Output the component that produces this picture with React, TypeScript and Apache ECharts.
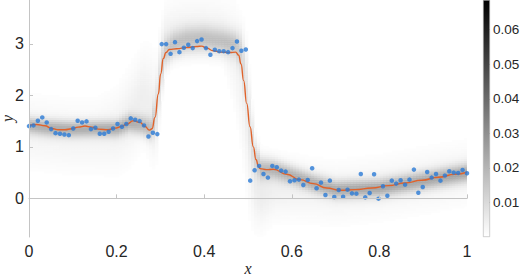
import React, { useEffect, useRef } from "react";
import * as echarts from "echarts";

// ---- observed data points (x evenly spaced on [0,1], 100 points) ----
const pointY = [
  1.403, 1.416, 1.506, 1.571, 1.474, 1.344, 1.266, 1.253, 1.24, 1.227,
  1.357, 1.506, 1.474, 1.494, 1.344, 1.37, 1.253, 1.253, 1.292, 1.357,
  1.442, 1.39, 1.442, 1.552, 1.526, 1.5, 1.416, 1.201, 1.273, 1.247,
  2.994, 2.994, 2.805, 3.032, 2.838, 2.922, 2.981, 2.916, 3.052, 3.084,
  2.916, 2.786, 2.883, 2.857, 2.857, 2.838, 2.916, 3.045, 2.864, 2.89,
  0.344, 0.545, 0.63, 0.474, 0.403, 0.63, 0.604, 0.539, 0.519, 0.331,
  0.351, 0.364, 0.26, 0.357, 0.584, 0.195, 0.305, 0.065, 0.344, 0.026,
  0.162, 0.032, 0.169, 0.097, 0.091, 0.474, 0.019, 0.104, 0.468, -0.006,
  0.234, 0.052, 0.344, 0.286, 0.351, 0.266, 0.364, 0.558, 0.11, 0.221,
  0.513, 0.403, 0.474, 0.344, 0.442, 0.526, 0.5, 0.494, 0.552, 0.487,
];

// ---- mean curve (orange) ----
const curveX = [
  0.0, 0.0175, 0.0365, 0.0518, 0.067, 0.0822, 0.0974, 0.1126, 0.1279, 0.1431,
  0.1583, 0.1811, 0.1963, 0.2116, 0.223, 0.2382, 0.2534, 0.2648, 0.2747, 0.2808,
  0.2877, 0.2953, 0.3006, 0.3067, 0.3128, 0.3204, 0.3371, 0.36, 0.3828, 0.3942,
  0.4056, 0.4209, 0.4361, 0.4589, 0.4718, 0.4787, 0.484, 0.4901, 0.497, 0.5046,
  0.5122, 0.5183, 0.5236, 0.5274, 0.5426, 0.5578, 0.5883, 0.6187, 0.6492, 0.6796,
  0.71, 0.7443, 0.7823, 0.8204, 0.8584, 0.8965, 0.9346, 0.9726, 1.0,
];
const curveY = [
  1.416, 1.435, 1.409, 1.357, 1.331, 1.331, 1.351, 1.383, 1.403, 1.383,
  1.344, 1.331, 1.364, 1.396, 1.442, 1.506, 1.474, 1.396, 1.325, 1.351,
  1.571, 2.026, 2.416, 2.714, 2.831, 2.89, 2.903, 2.929, 2.948, 2.955,
  2.916, 2.864, 2.838, 2.831, 2.838, 2.779, 2.61, 2.286, 1.844, 1.39,
  1.0, 0.753, 0.63, 0.578, 0.558, 0.565, 0.468, 0.364, 0.286, 0.201,
  0.156, 0.169, 0.201, 0.247, 0.299, 0.351, 0.409, 0.468, 0.506,
];

// ---- predictive density, read at knots: main band + faint halo ----
const densX =      [0.0, 0.05, 0.1, 0.15, 0.2, 0.23, 0.26, 0.28, 0.29, 0.3, 0.31, 0.33, 0.36, 0.4, 0.44, 0.47, 0.485, 0.495, 0.505, 0.515, 0.53, 0.56, 0.6, 0.65, 0.7, 0.8, 0.9, 1.0];
const bandCenter = [1.42, 1.37, 1.35, 1.36, 1.36, 1.47, 1.42, 1.35, 1.7, 2.4, 2.85, 3.0, 3.08, 3.1, 3.05, 3.0, 2.85, 2.3, 1.4, 0.8, 0.58, 0.56, 0.45, 0.3, 0.18, 0.21, 0.35, 0.5];
const bandSigma =  [0.11, 0.11, 0.11, 0.11, 0.11, 0.12, 0.13, 0.15, 0.35, 0.35, 0.2, 0.17, 0.17, 0.17, 0.17, 0.17, 0.25, 0.45, 0.45, 0.25, 0.15, 0.13, 0.12, 0.12, 0.12, 0.12, 0.12, 0.12];
const bandPeak =   [0.018, 0.019, 0.019, 0.019, 0.019, 0.018, 0.017, 0.014, 0.006, 0.006, 0.012, 0.015, 0.015, 0.015, 0.015, 0.014, 0.01, 0.005, 0.005, 0.009, 0.016, 0.018, 0.019, 0.02, 0.02, 0.021, 0.021, 0.022];
const haloCenter = [1.3, 1.25, 1.2, 1.2, 1.3, 1.6, 2.0, 1.8, 1.7, 2.5, 3.2, 3.3, 3.35, 3.35, 3.3, 2.8, 2.2, 1.6, 0.8, 0.2, 0.1, 0.2, 0.2, 0.15, 0.1, 0.2, 0.35, 0.5];
const haloSigma =  [0.4, 0.4, 0.4, 0.4, 0.45, 0.5, 0.5, 0.6, 0.6, 0.5, 0.35, 0.35, 0.35, 0.35, 0.35, 0.6, 0.7, 0.8, 0.7, 0.45, 0.4, 0.35, 0.35, 0.35, 0.35, 0.35, 0.35, 0.35];
const haloPeak =   [0.003, 0.003, 0.003, 0.003, 0.0035, 0.004, 0.0045, 0.004, 0.003, 0.003, 0.003, 0.003, 0.003, 0.003, 0.003, 0.003, 0.003, 0.003, 0.003, 0.004, 0.005, 0.004, 0.0035, 0.003, 0.003, 0.003, 0.003, 0.003];

const xTicks = [0, 0.2, 0.4, 0.6, 0.8, 1];
const yTicks = [0, 1, 2, 3];
const cbTicks = [0.01, 0.02, 0.03, 0.04, 0.05, 0.06];

const X_MIN = 0, X_MAX = 1, Y_MIN = -0.75, Y_MAX = 3.85, CB_MAX = 0.0686;
const NX = 146, NY = 115;

function interp(xs: number[], ys: number[], x: number) {
  if (x <= xs[0]) return ys[0];
  for (let i = 1; i < xs.length; i++) {
    if (x <= xs[i]) {
      const t = (x - xs[i - 1]) / (xs[i] - xs[i - 1]);
      return ys[i - 1] + t * (ys[i] - ys[i - 1]);
    }
  }
  return ys[ys.length - 1];
}

function gauss(y: number, c: number, s: number) {
  const z = (y - c) / s;
  return Math.exp(-0.5 * z * z);
}

// cells: [x0, x1, y0, y1, density]
function buildHeat() {
  const out: number[][] = [];
  const dx = (X_MAX - X_MIN) / NX, dy = (Y_MAX - Y_MIN) / NY;
  for (let i = 0; i < NX; i++) {
    const x0 = X_MIN + i * dx;
    const xc = x0 + dx / 2;
    const c1 = interp(densX, bandCenter, xc), s1 = interp(densX, bandSigma, xc), a1 = interp(densX, bandPeak, xc);
    const c2 = interp(densX, haloCenter, xc), s2 = interp(densX, haloSigma, xc), a2 = interp(densX, haloPeak, xc);
    for (let j = 0; j < NY; j++) {
      const y0 = Y_MIN + j * dy;
      const yc = y0 + dy / 2;
      const v = a1 * gauss(yc, c1, s1) + a2 * gauss(yc, c2, s2);
      if (v > 0.0005) out.push([x0, x0 + dx, y0, y0 + dy, v]);
    }
  }
  return out;
}

function grayOf(v: number) {
  const t = Math.max(0, Math.min(1, v / CB_MAX));
  const g = Math.round(255 * (1 - t));
  return `rgb(${g},${g},${g})`;
}

const FONT = "'Liberation Sans', Arial, sans-serif";
const TXT = "#262626";
const AX = "#c4c4c4";
const NAME_STYLE = { fontFamily: "'Liberation Serif', serif", fontStyle: "italic", fontSize: 16, color: TXT };

export default function App() {
  const ref = useRef<HTMLDivElement>(null);
  useEffect(() => {
    if (!ref.current) return;
    const chart = echarts.init(ref.current, undefined, { renderer: "svg" });
    const option: any = {
      animation: false,
      backgroundColor: "#ffffff",
      grid: [
        { left: 29, right: 55, top: 0, bottom: 42, outerBoundsMode: "none", containLabel: false },
        { left: 483, width: 7, top: 0, bottom: 42, outerBoundsMode: "none", containLabel: false },
      ],
      xAxis: [
        {
          gridIndex: 0, type: "value", min: X_MIN, max: X_MAX, z: 5,
          name: "x", nameLocation: "middle", nameGap: 23, nameMoveOverlap: false,
          nameTextStyle: NAME_STYLE,
          axisLine: { lineStyle: { color: AX, width: 1 } },
          axisTick: { inside: true, length: 4, lineStyle: { color: AX }, customValues: xTicks },
          axisLabel: { customValues: xTicks, color: TXT, fontSize: 16, fontFamily: FONT, margin: 6 },
          splitLine: { show: false },
        },
        { gridIndex: 1, type: "category", data: [""], show: false },
      ],
      yAxis: [
        {
          gridIndex: 0, type: "value", min: Y_MIN, max: Y_MAX, z: 5,
          name: "y", nameLocation: "middle", nameGap: 14, nameRotate: 90, nameMoveOverlap: false,
          nameTextStyle: NAME_STYLE,
          axisLine: { show: true, lineStyle: { color: AX, width: 1 } },
          axisTick: { show: true, inside: true, length: 4, lineStyle: { color: AX }, customValues: yTicks },
          axisLabel: { customValues: yTicks, color: TXT, fontSize: 16, fontFamily: FONT, margin: 5 },
          splitLine: { show: false },
        },
        {
          gridIndex: 1, type: "value", min: 0, max: CB_MAX, position: "right",
          axisLine: { show: false },
          axisTick: { show: true, inside: true, length: 2, lineStyle: { color: "#999" }, customValues: cbTicks },
          axisLabel: { customValues: cbTicks, color: TXT, fontSize: 13.5, fontFamily: FONT, margin: 3 },
          splitLine: { show: false },
        },
      ],
      series: [
        {
          type: "custom", xAxisIndex: 0, yAxisIndex: 0, z: 1,
          data: buildHeat(),
          encode: { x: [0, 1], y: [2, 3] },
          progressive: 0, progressiveThreshold: 1e9,
          clip: true,
          renderItem: (params: any, api: any) => {
            const p0 = api.coord([api.value(0), api.value(3)]);
            const p1 = api.coord([api.value(1), api.value(2)]);
            return {
              type: "rect",
              shape: { x: p0[0], y: p0[1], width: p1[0] - p0[0] + 0.4, height: p1[1] - p0[1] + 0.4 },
              style: { fill: grayOf(api.value(4)) },
              silent: true,
            };
          },
        },
        {
          type: "line", xAxisIndex: 0, yAxisIndex: 0, z: 3,
          data: curveX.map((x, i) => [x, curveY[i]]),
          smooth: 0.5, smoothMonotone: "x", showSymbol: false, symbol: "none",
          lineStyle: { color: "#e0622a", width: 1.4 },
        },
        {
          type: "scatter", xAxisIndex: 0, yAxisIndex: 0, z: 4,
          data: pointY.map((y, i) => [i / 99, y]),
          symbolSize: 4.5,
          itemStyle: { color: "#2b7bd6" },
        },
        {
          type: "bar", xAxisIndex: 1, yAxisIndex: 1, data: [CB_MAX], barWidth: "100%",
          itemStyle: {
            color: new echarts.graphic.LinearGradient(0, 0, 0, 1, [
              { offset: 0, color: "#000000" },
              { offset: 1, color: "#ffffff" },
            ]),
            borderColor: "#b0b0b0", borderWidth: 0.6,
          },
          emphasis: { disabled: true },
        },
      ],
    };
    chart.setOption(option);
    return () => chart.dispose();
  }, []);
  return <div ref={ref} style={{ position: "fixed", left: 0, top: 0, width: 522, height: 279 }} />;
}
